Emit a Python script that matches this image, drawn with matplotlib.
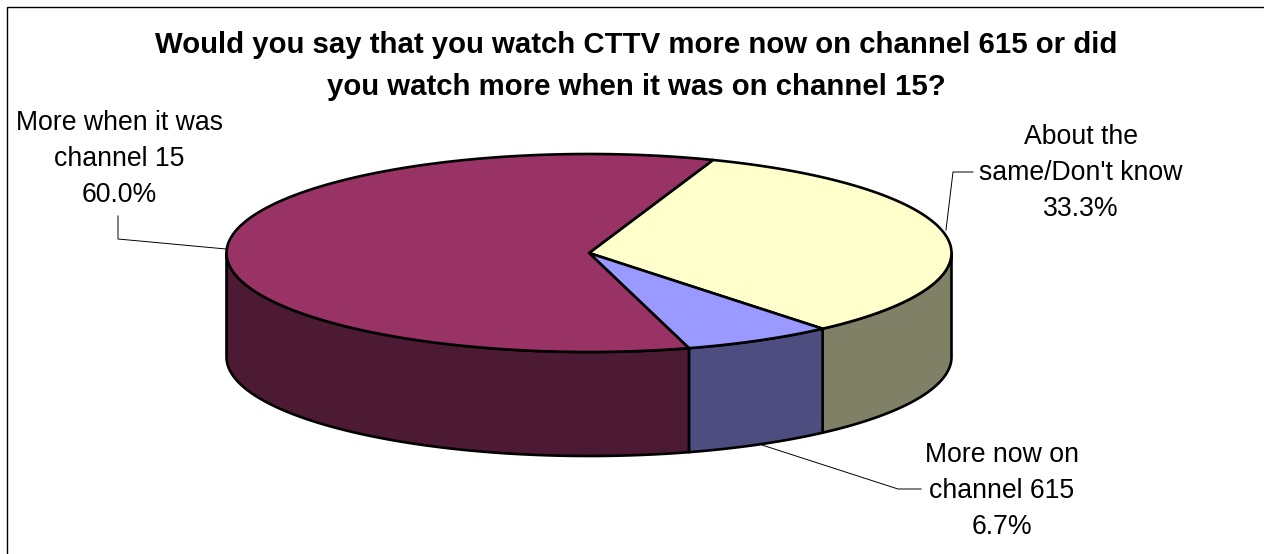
import numpy as np
import matplotlib
matplotlib.use("Agg")
import matplotlib.pyplot as plt
from matplotlib.patches import Polygon

plt.rcParams["font.family"] = ["Liberation Sans", "DejaVu Sans"]

TITLE = "Would you say that you watch CTTV more now on channel 615 or did\nyou watch more when it was on channel 15?"

# clockwise from the start angle
categories = ["About the\nsame/Don't know", "More now on\nchannel 615", "More when it was\nchannel 15"]
values = [33.3, 6.7, 60.0]
top_colors = ["#FFFFCC", "#9999FF", "#993366"]
side_colors = ["#808066", "#4D4D80", "#4D1A33"]

# pie geometry, in pixels
CX, CY = 589, 253
RX, RY = 362.5, 99
DEPTH = 104
START = 70

LABEL_POS = [(1081, 173), (1002, 491), (119, 159)]
LEADERS = [
    [(946, 230), (953, 172), (973, 172)],
    [(762, 445), (898, 489), (921, 489)],
    [(118, 216), (118, 239), (226, 249)],
]


def rim(a0, a1, n=200):
    t = np.radians(np.linspace(a0, a1, n))
    return CX + RX * np.cos(t), CY - RY * np.sin(t)


fig = plt.figure(figsize=(12.64, 5.54), dpi=100)
ax = fig.add_axes([0, 0, 1, 1])
ax.set_xlim(0, 1264)
ax.set_ylim(554, 0)
ax.axis("off")

# chart border, only left and top are in the frame
ax.plot([6.5, 6.5, 1264], [554, 7, 7], color="black", lw=1.0, solid_joinstyle="miter")

bounds = START - np.cumsum([0] + values) * 3.6

# sides first
for i in range(len(values)):
    a0, a1 = bounds[i], bounds[i + 1]
    for lo, hi in [(-180, 0), (-540, -360)]:
        s0 = min(a0, hi)
        s1 = max(a1, lo)
        if s0 <= s1:
            continue
        x, y = rim(s0, s1)
        pts = np.column_stack([np.r_[x, x[::-1]], np.r_[y, y[::-1] + DEPTH]])
        ax.add_patch(Polygon(pts, closed=True, fc=side_colors[i], ec="black", lw=1.9, joinstyle="round"))

# top face
for i in range(len(values)):
    x, y = rim(bounds[i], bounds[i + 1])
    pts = np.column_stack([np.r_[CX, x], np.r_[CY, y]])
    ax.add_patch(Polygon(pts, closed=True, fc=top_colors[i], ec="black", lw=1.9, joinstyle="round"))

for line in LEADERS:
    ax.plot(*zip(*line), color="black", lw=0.7)

ax.text(636, 66, TITLE, ha="center", va="center", fontsize=21.2, fontweight="bold",
        linespacing=1.62, color="black")

for cat, val, pos in zip(categories, values, LABEL_POS):
    ax.text(pos[0], pos[1], f"{cat}\n{val:.1f}%", ha="center", va="center", fontsize=19.2,
            linespacing=1.52, color="black")

fig.savefig("out.png", dpi=100)
